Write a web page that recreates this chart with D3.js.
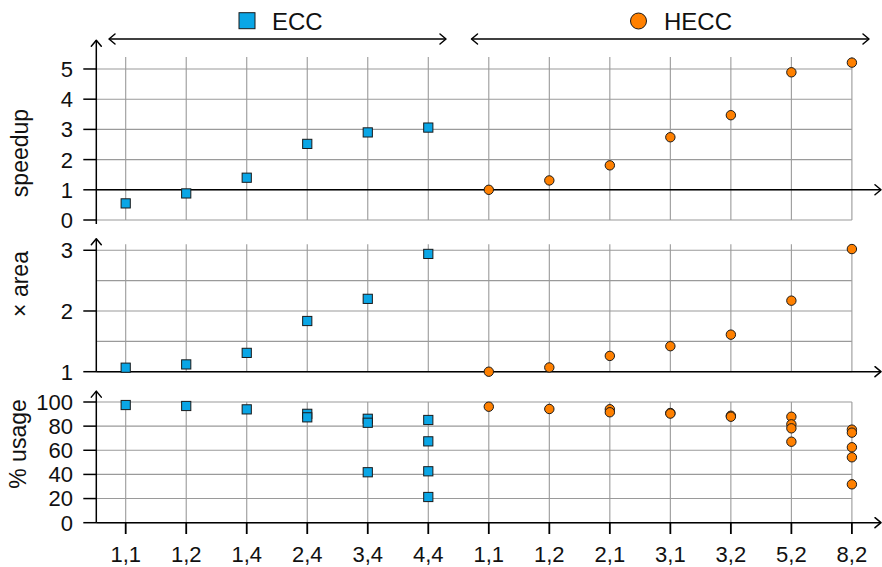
<!DOCTYPE html>
<html><head><meta charset="utf-8">
<script src="https://cdn.jsdelivr.net/npm/d3@7/dist/d3.min.js"></script>
<style>body{margin:0;background:#fff}svg{display:block}text{font-family:"Liberation Sans",Arial,sans-serif;fill:#111}</style>
</head><body><svg id="c" width="882" height="567"></svg>
<script>
// ---- data ----
const eccCats = ["1,1","1,2","1,4","2,4","3,4","4,4"];
const heccCats = ["1,1","1,2","2,1","3,1","3,2","5,2","8,2"];
const eccSpeedup = [0.55,0.88,1.40,2.52,2.90,3.06];
const heccSpeedup = [1.0,1.31,1.81,2.74,3.47,4.89,5.21];
const eccArea = [1.066,1.12,1.31,1.835,2.20,2.94];
const heccArea = [1.0,1.07,1.26,1.42,1.61,2.17,3.02];
const eccUsage = [[97.5],[96.7],[93.9],[90.2,87.3],[86.1,82.8,41.8],[85.1,67.4,42.6,21.3]];
const heccUsage = [[96.1],[94.2],[94.0,91.5],[90.9,90.4],[88.6,87.8],[87.8,81.5,78.2,67.1],[77.1,74.6,62.5,54.2,31.8]];
const speedTicks = [0,1,2,3,4,5];
const areaTicks = [1,2,3];
const areaGrid = [1,1.5,2,2.5,3];
const usageTicks = [0,20,40,60,80,100];
const seriesNames = ["ECC","HECC"];

// ---- setup ----
const svg = d3.select("#c");
const keys = eccCats.map((c,i)=>"E"+i).concat(heccCats.map((c,i)=>"H"+i));
const labelOf = k => k[0]==="E" ? eccCats[+k.slice(1)] : heccCats[+k.slice(1)];
const x = d3.scalePoint().domain(keys).range([125.7, 851.9]);
const axX = 96.3, gridRight = 851.9, arrowRight = 881;
const ECOL = "#0aa6e6", HCOL = "#ff8000", GRID = "#9a9a9a";

const panels = [
  {y: d3.scaleLinear().domain([0,5.4]).range([220,56.9]), ticks: speedTicks, grid: speedTicks, top: 5.95, base: 1, bottomExt: 4,
   e: eccSpeedup.map(v=>[v]), h: heccSpeedup.map(v=>[v]), label: "speedup", lx: 20, ly: 153},
  {y: d3.scaleLinear().domain([1,3.1]).range([371.7,244.2]), ticks: areaTicks, grid: areaGrid, top: 3.19, base: 1, bottomExt: 0,
   e: eccArea.map(v=>[v]), h: heccArea.map(v=>[v]), label: "× area", lx: 20, ly: 284},
  {y: d3.scaleLinear().domain([0,100]).range([522.7,402]), ticks: usageTicks, grid: usageTicks, top: 109, base: 0, bottomExt: 0,
   e: eccUsage, h: heccUsage, label: "% usage", lx: 18, ly: 444}
];

function chevron(g, x0, y0, dir){
  const s=5, l=6;
  let d;
  if(dir==="up") d=`M${x0-s},${y0+l}L${x0},${y0}L${x0+s},${y0+l}`;
  else if(dir==="right") d=`M${x0-l},${y0-s}L${x0},${y0}L${x0-l},${y0+s}`;
  else d=`M${x0+l},${y0-s}L${x0},${y0}L${x0+l},${y0+s}`;
  g.append("path").attr("d",d).attr("fill","none").attr("stroke","#000").attr("stroke-width",1.5)
   .attr("stroke-linecap","round").attr("stroke-linejoin","round");
}

panels.forEach(p=>{
  const g = svg.append("g");
  const yTop = p.y(p.y.domain()[1]);
  g.selectAll(".hg").data(p.grid).join("line")
    .attr("x1",axX).attr("x2",gridRight).attr("y1",d=>p.y(d)).attr("y2",d=>p.y(d))
    .attr("stroke",GRID).attr("stroke-width",1.1);
  g.selectAll(".vg").data(keys).join("line")
    .attr("x1",d=>x(d)).attr("x2",d=>x(d)).attr("y1",yTop).attr("y2",p.y(p.y.domain()[0]))
    .attr("stroke",GRID).attr("stroke-width",1.1);
  g.append("line").attr("x1",axX).attr("x2",arrowRight).attr("y1",p.y(p.base)).attr("y2",p.y(p.base))
    .attr("stroke","#000").attr("stroke-width",1.5);
  chevron(g, arrowRight, p.y(p.base), "right");
  g.append("line").attr("x1",axX).attr("x2",axX).attr("y1",p.y(p.y.domain()[0])+p.bottomExt).attr("y2",p.y(p.top))
    .attr("stroke","#000").attr("stroke-width",1.5);
  chevron(g, axX, p.y(p.top), "up");
  g.selectAll(".yt").data(p.ticks).join("line")
    .attr("x1",83.3).attr("x2",axX).attr("y1",d=>p.y(d)).attr("y2",d=>p.y(d))
    .attr("stroke","#000").attr("stroke-width",1.5);
  g.selectAll(".yl").data(p.ticks).join("text")
    .attr("x",73).attr("y",d=>p.y(d)).attr("dy","0.36em").attr("text-anchor","end")
    .attr("font-size",22).text(d=>d);
  g.append("text").attr("transform",`translate(${p.lx},${p.ly}) rotate(-90)`)
    .attr("text-anchor","middle").attr("dy","0.35em").attr("font-size",23).text(p.label);
  const ePts = [], hPts = [];
  p.e.forEach((vs,i)=>vs.forEach(v=>ePts.push([x("E"+i),p.y(v)])));
  p.h.forEach((vs,i)=>vs.forEach(v=>hPts.push([x("H"+i),p.y(v)])));
  g.selectAll(".em").data(ePts).join("rect")
    .attr("x",d=>d[0]-4.6).attr("y",d=>d[1]-4.6).attr("width",9.2).attr("height",9.2)
    .attr("fill",ECOL).attr("stroke","#1a1a1a").attr("stroke-width",1);
  g.selectAll(".hm").data(hPts).join("circle")
    .attr("cx",d=>d[0]).attr("cy",d=>d[1]).attr("r",4.7)
    .attr("fill",HCOL).attr("stroke","#1a1a1a").attr("stroke-width",1);
});

const pb = panels[2];
svg.selectAll(".xt").data(keys).join("line")
  .attr("x1",d=>x(d)).attr("x2",d=>x(d)).attr("y1",pb.y(0)).attr("y2",534)
  .attr("stroke","#000").attr("stroke-width",1.8);
svg.selectAll(".xl").data(keys).join("text")
  .attr("x",d=>x(d)).attr("y",561.5).attr("text-anchor","middle").attr("font-size",22).text(labelOf);

const tg = svg.append("g");
const groups = [
  {x1: 109, x2: 446, name: seriesNames[0], mx: 247, tx: 272},
  {x1: 471.5, x2: 869, name: seriesNames[1], mx: 638.5, tx: 664}
];
groups.forEach((gr,i)=>{
  tg.append("line").attr("x1",gr.x1).attr("x2",gr.x2).attr("y1",39).attr("y2",39)
    .attr("stroke","#000").attr("stroke-width",1.6);
  chevron(tg, gr.x1, 39, "left");
  chevron(tg, gr.x2, 39, "right");
  if(i===0){
    tg.append("rect").attr("x",gr.mx-8).attr("y",12.7).attr("width",16).attr("height",16)
      .attr("fill",ECOL).attr("stroke","#1a1a1a").attr("stroke-width",1);
  } else {
    tg.append("circle").attr("cx",gr.mx).attr("cy",21).attr("r",8)
      .attr("fill",HCOL).attr("stroke","#1a1a1a").attr("stroke-width",1);
  }
  tg.append("text").attr("x",gr.tx).attr("y",29.5).attr("font-size",24).text(gr.name);
});
</script></body></html>
